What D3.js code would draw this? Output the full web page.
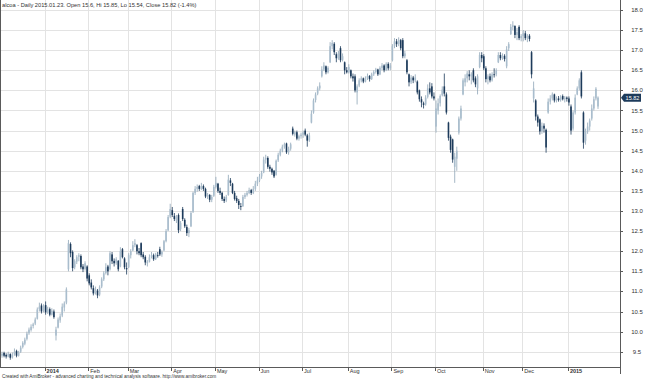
<!DOCTYPE html>
<html><head><meta charset="utf-8">
<script src="https://cdn.jsdelivr.net/npm/d3@7"></script>
<style>html,body{margin:0;padding:0;background:#fff;overflow:hidden}svg{display:block;font-family:"Liberation Sans",Arial,sans-serif}</style>
</head><body><svg id="c" width="645" height="379"></svg>
<script>
// Daily bars, 2013-12-02 .. 2015-01-23 (one entry per trading day)
const openP = [
9.40,9.47,9.42,9.38,9.44,9.36,9.43,9.52,9.40,9.50,9.62,9.70,9.82,9.96,10.04,10.14,10.20,10.32,10.56,10.65,10.52,
10.66,10.48,10.56,10.42,10.50,9.90,10.10,10.28,10.40,10.60,10.72,11.55,12.18,11.98,11.60,11.74,11.86,11.88,11.62,11.56,11.62,
11.40,11.22,11.08,10.95,11.02,10.92,11.12,11.30,11.46,11.62,11.55,11.92,11.76,11.70,11.76,11.62,12.05,11.82,11.58,
11.60,11.90,12.02,12.15,12.15,12.00,12.20,11.92,11.86,11.70,11.74,11.86,11.90,11.80,11.90,12.05,11.92,12.02,12.25,12.52,12.86,
13.02,12.88,12.76,12.90,12.55,13.05,12.78,12.60,12.45,12.62,12.98,13.45,13.55,13.62,13.55,13.62,13.55,13.36,13.40,13.28,13.38,
13.60,13.68,13.50,13.45,13.30,13.26,13.40,13.76,13.68,13.45,13.32,13.25,13.12,13.12,13.35,13.40,13.45,13.52,13.45,13.55,13.68,
13.76,13.86,13.96,14.28,14.32,14.10,14.05,14.00,13.90,14.26,14.40,14.50,14.60,14.68,14.46,14.55,15.05,14.90,14.96,14.80,14.86,
14.90,15.00,14.88,14.76,15.20,15.45,15.76,15.92,16.05,16.35,16.52,16.60,16.45,16.70,17.10,17.16,16.90,16.80,17.05,16.76,16.70,16.50,
16.45,16.50,16.35,16.35,15.95,16.12,16.25,16.30,16.22,16.30,16.36,16.28,16.40,16.46,16.52,16.40,16.56,16.62,16.50,16.66,16.55,
16.75,17.10,17.22,17.15,17.25,17.25,16.85,16.75,16.40,16.20,16.32,16.25,16.22,16.00,15.78,15.68,15.65,15.84,16.05,16.10,15.85,
15.10,15.50,15.68,15.88,16.10,15.90,15.20,14.85,14.78,14.10,14.30,14.95,15.30,15.90,16.20,16.30,16.40,16.35,16.50,16.30,16.05,16.58,16.88,
16.85,16.55,16.28,16.35,16.25,16.40,16.40,16.70,16.88,16.80,16.86,16.60,17.05,17.40,17.58,17.60,17.38,17.58,17.30,
17.35,17.42,17.30,17.36,16.95,15.80,15.75,15.35,15.28,14.98,15.12,15.02,15.45,15.72,15.80,15.90,15.75,15.80,15.76,15.86,15.78,15.82,
15.80,15.60,15.05,15.45,15.90,16.05,16.45,15.45,14.75,14.98,15.10,15.30,15.55,15.80,15.60];
const highP = [
9.50,9.50,9.46,9.50,9.46,9.48,9.58,9.55,9.52,9.65,9.76,9.85,10.00,10.10,10.18,10.22,10.35,10.60,10.72,10.70,10.68,
10.75,10.62,10.60,10.58,10.55,10.12,10.35,10.45,10.70,10.75,11.10,12.28,12.22,12.02,11.80,11.90,11.95,11.92,11.68,11.75,11.65,
11.45,11.30,11.15,11.12,11.06,11.15,11.35,11.50,11.70,11.66,12.00,11.98,11.82,11.85,11.78,12.10,12.08,11.85,11.72,
11.95,12.05,12.25,12.30,12.18,12.08,12.22,11.98,11.90,11.78,11.92,11.98,11.94,11.96,11.98,12.11,12.02,12.28,12.55,12.90,13.18,
13.10,12.95,12.90,12.94,12.75,13.10,12.82,12.66,12.58,13.00,13.48,13.62,13.66,13.65,13.70,13.66,13.58,13.45,13.42,13.40,13.65,
13.85,13.70,13.58,13.48,13.36,13.40,13.90,13.82,13.70,13.50,13.38,13.30,13.20,13.40,13.45,13.50,13.58,13.55,13.62,13.75,13.85,
13.92,14.00,14.35,14.40,14.36,14.15,14.08,14.02,14.28,14.45,14.55,14.65,14.70,14.70,14.60,14.70,15.10,15.00,15.00,14.90,14.95,
15.00,15.05,14.92,14.95,15.50,15.80,15.95,16.10,16.20,16.60,16.70,16.62,16.60,17.20,17.25,17.20,16.95,16.98,17.10,16.92,16.72,16.58,
16.65,16.52,16.42,16.40,16.15,16.30,16.35,16.32,16.35,16.42,16.38,16.44,16.50,16.56,16.54,16.60,16.68,16.65,16.70,16.70,16.68,
17.15,17.30,17.28,17.32,17.28,17.30,16.98,16.78,16.42,16.38,16.36,16.40,16.25,16.02,15.85,15.72,15.88,16.15,16.20,16.18,15.95,
15.75,15.80,15.90,16.10,16.42,15.95,15.22,14.90,14.80,14.45,14.60,15.35,15.62,16.30,16.40,16.48,16.50,16.45,16.55,16.35,16.40,16.95,16.95,
16.90,16.60,16.40,16.42,16.45,16.55,16.55,16.95,16.95,16.92,16.90,17.10,17.20,17.65,17.72,17.62,17.55,17.62,17.40,
17.50,17.48,17.40,17.40,16.98,16.22,15.78,15.40,15.30,15.20,15.18,15.05,15.80,15.88,15.95,15.92,15.85,15.86,15.88,15.90,15.86,15.85,
15.85,15.65,15.50,15.90,16.10,16.30,16.50,15.48,15.05,15.20,15.30,15.65,15.85,16.08,15.85];
const lowP = [
9.35,9.36,9.33,9.36,9.30,9.33,9.40,9.36,9.38,9.47,9.58,9.66,9.78,9.92,10.00,10.08,10.16,10.30,10.50,10.45,10.48,
10.42,10.44,10.38,10.40,10.32,9.78,10.08,10.22,10.36,10.50,10.68,11.50,11.85,11.50,11.55,11.68,11.75,11.55,11.48,11.52,11.25,
11.15,11.05,10.90,10.92,10.83,10.88,11.08,11.26,11.42,11.40,11.52,11.68,11.62,11.66,11.50,11.60,11.82,11.55,11.42,
11.58,11.82,12.00,12.10,11.92,11.90,11.85,11.80,11.65,11.62,11.72,11.82,11.76,11.78,11.84,11.88,11.86,12.00,12.22,12.50,12.82,
12.85,12.75,12.70,12.45,12.50,12.75,12.58,12.38,12.35,12.60,12.95,13.40,13.48,13.50,13.52,13.50,13.32,13.30,13.22,13.22,13.35,
13.56,13.45,13.40,13.25,13.20,13.22,13.38,13.62,13.42,13.26,13.20,13.05,13.02,13.10,13.30,13.36,13.42,13.40,13.42,13.50,13.62,
13.72,13.80,13.94,14.18,14.05,13.98,13.90,13.82,13.88,14.22,14.36,14.46,14.55,14.42,14.40,14.50,14.88,14.85,14.76,14.75,14.80,
14.82,14.86,14.60,14.72,15.18,15.42,15.70,15.88,16.00,16.32,16.48,16.40,16.42,16.68,17.02,16.88,16.70,16.76,16.70,16.72,16.40,16.42,
16.42,16.30,16.22,15.95,15.65,16.08,16.20,16.18,16.20,16.26,16.22,16.26,16.36,16.42,16.36,16.38,16.50,16.45,16.48,16.50,16.50,
16.72,17.05,17.08,17.10,17.00,16.80,16.80,16.40,16.10,16.16,16.18,16.20,15.90,15.72,15.58,15.55,15.62,15.80,15.90,15.80,15.75,
14.95,15.40,15.60,15.85,15.85,15.40,14.75,14.45,14.20,13.70,14.00,14.90,15.25,15.88,16.10,16.20,16.25,16.15,16.20,16.08,15.90,16.55,16.70,
16.50,16.20,16.15,16.20,16.22,16.32,16.35,16.68,16.75,16.76,16.72,16.55,16.98,17.38,17.50,17.30,17.25,17.25,17.22,
17.22,17.25,17.20,17.22,16.30,15.70,15.25,15.10,14.90,14.92,14.95,14.45,15.42,15.65,15.75,15.70,15.70,15.72,15.72,15.75,15.70,15.72,
15.62,14.90,15.00,15.40,15.88,16.00,15.80,14.55,14.65,14.92,15.00,15.25,15.50,15.75,15.54];
const closeP = [
9.45,9.40,9.38,9.45,9.35,9.42,9.50,9.40,9.48,9.60,9.72,9.80,9.95,10.05,10.12,10.18,10.30,10.55,10.62,10.50,10.63,
10.48,10.55,10.42,10.52,10.36,10.05,10.30,10.38,10.62,10.70,11.05,12.20,11.95,11.58,11.75,11.85,11.90,11.60,11.55,11.70,11.32,
11.20,11.10,10.95,11.05,10.90,11.10,11.30,11.45,11.60,11.50,11.95,11.75,11.70,11.80,11.55,12.00,11.85,11.60,11.55,
11.90,12.00,12.15,12.20,12.00,11.95,11.90,11.85,11.72,11.74,11.85,11.90,11.80,11.92,11.88,11.92,11.98,12.25,12.50,12.85,13.05,
12.90,12.80,12.86,12.52,12.70,12.80,12.62,12.45,12.52,12.95,13.45,13.55,13.60,13.55,13.62,13.55,13.36,13.40,13.28,13.35,13.60,
13.70,13.50,13.45,13.30,13.25,13.35,13.78,13.70,13.45,13.30,13.25,13.15,13.10,13.35,13.40,13.45,13.52,13.45,13.55,13.68,13.76,
13.86,13.95,14.28,14.32,14.10,14.05,13.96,13.86,14.25,14.40,14.50,14.60,14.66,14.46,14.55,14.66,14.92,14.96,14.80,14.86,14.90,
14.95,14.90,14.75,14.88,15.42,15.75,15.90,16.05,16.12,16.52,16.62,16.45,16.56,17.10,17.18,16.95,16.80,16.92,16.75,16.85,16.50,16.45,
16.58,16.35,16.30,16.00,16.10,16.25,16.30,16.22,16.30,16.36,16.28,16.40,16.46,16.52,16.40,16.56,16.62,16.50,16.66,16.55,16.62,
17.10,17.22,17.15,17.25,17.05,16.85,16.92,16.45,16.20,16.32,16.25,16.32,15.95,15.78,15.70,15.64,15.82,16.05,15.95,15.85,15.80,
15.55,15.68,15.86,16.02,15.92,15.45,14.82,14.52,14.28,14.35,14.50,15.30,15.55,16.25,16.30,16.42,16.35,16.40,16.25,16.15,16.35,16.88,16.80,
16.55,16.28,16.35,16.25,16.40,16.38,16.50,16.88,16.80,16.86,16.78,17.02,17.15,17.58,17.62,17.38,17.45,17.30,17.35,
17.42,17.30,17.36,17.28,16.40,16.05,15.35,15.20,14.98,15.12,15.05,14.58,15.72,15.80,15.90,15.75,15.80,15.76,15.84,15.78,15.82,15.79,
15.70,15.00,15.45,15.82,16.05,16.25,15.85,14.70,14.98,15.10,15.25,15.55,15.78,16.04,15.82];

// first trading day of each month (bar index) and its label
const monthTickIndex = [21,42,61,82,103,124,145,167,188,209,232,251,273];
const monthTickLabels = ["2014","Feb","Mar","Apr","May","Jun","Jul","Aug","Sep","Oct","Nov","Dec","2015"];
const yearLabels = ["2014","2015"];
const priceTicks = [9.5,10.0,10.5,11.0,11.5,12.0,12.5,13.0,13.5,14.0,14.5,15.0,15.5,16.0,16.5,17.0,17.5,18.0];
const titleText = "alcoa - Daily 2015.01.23. Open 15.6, Hi 15.85, Lo 15.54, Close 15.82 (-1.4%)";
const footerText = "Created with AmiBroker - advanced charting and technical analysis software. http://www.amibroker.com";
const lastClose = 15.82;

const bars = closeP.map((c, i) => ({i, o: openP[i], h: highP[i], l: lowP[i], c}));

const plotRight = 620, plotBottom = 367;
const svg = d3.select("#c");
const x = d3.scaleLinear().domain([0, bars.length - 1]).range([2, 598]);
const y = d3.scaleLinear().domain([9.5, 18]).range([351.7, 10]);

const gridColor = "#e3e3e3";
const axisColor = "#5a5a5a";
const textColor = "#333";

// horizontal gridlines
svg.append("g").selectAll("line").data(priceTicks).join("line")
  .attr("x1", 0).attr("x2", plotRight)
  .attr("y1", d => Math.round(y(d)) + 0.5).attr("y2", d => Math.round(y(d)) + 0.5)
  .attr("stroke", gridColor).attr("stroke-width", 1);

// vertical gridlines at month starts
svg.append("g").selectAll("line").data(monthTickIndex).join("line")
  .attr("x1", d => Math.round(x(d) - 1) + 0.5).attr("x2", d => Math.round(x(d) - 1) + 0.5)
  .attr("y1", 0).attr("y2", plotBottom)
  .attr("stroke", gridColor).attr("stroke-width", 1);

// candles
const upFill = "#a9bdcd", upLine = "#8ea4b6", dnFill = "#1d3b5b", dnLine = "#1d3b5b";
const cg = svg.append("g");
cg.selectAll("line").data(bars).join("line")
  .attr("x1", d => x(d.i)).attr("x2", d => x(d.i))
  .attr("y1", d => y(d.h)).attr("y2", d => y(d.l))
  .attr("stroke", d => d.c >= d.o ? upLine : dnLine).attr("stroke-width", 0.8);
cg.selectAll("rect").data(bars).join("rect")
  .attr("x", d => x(d.i) - 0.8).attr("width", 1.6)
  .attr("y", d => y(Math.max(d.o, d.c)))
  .attr("height", d => Math.max(0.8, Math.abs(y(d.o) - y(d.c))))
  .attr("fill", d => d.c >= d.o ? upFill : dnFill);

// axes lines
svg.append("line").attr("x1", 0.5).attr("x2", 0.5).attr("y1", 0).attr("y2", plotBottom)
  .attr("stroke", axisColor);
svg.append("line").attr("x1", 0).attr("x2", plotRight + 0.5).attr("y1", plotBottom + 0.5).attr("y2", plotBottom + 0.5)
  .attr("stroke", axisColor);
svg.append("line").attr("x1", plotRight + 0.5).attr("x2", plotRight + 0.5).attr("y1", 0).attr("y2", 374)
  .attr("stroke", axisColor);

// right price axis
const ya = svg.append("g");
ya.selectAll("line").data(priceTicks).join("line")
  .attr("x1", plotRight + 1).attr("x2", plotRight + 3)
  .attr("y1", d => Math.round(y(d)) + 0.5).attr("y2", d => Math.round(y(d)) + 0.5)
  .attr("stroke", axisColor);
ya.selectAll("text").data(priceTicks).join("text")
  .attr("x", 637).attr("y", d => y(d) + 2)
  .attr("text-anchor", "middle").attr("font-size", 6).attr("fill", textColor)
  .text(d => d3.format(".1f")(d));

// last price marker
const ly = y(lastClose);
svg.append("path")
  .attr("d", `M${plotRight + 1},${ly} L${plotRight + 4},${ly - 4} L${641},${ly - 4} L${641},${ly + 4} L${plotRight + 4},${ly + 4} Z`)
  .attr("fill", "#1d3b5b");
svg.append("text").attr("x", 632.5).attr("y", ly + 2).attr("text-anchor", "middle")
  .attr("font-size", 5.5).attr("fill", "#fff").text(d3.format(".2f")(lastClose));

// month axis
const xa = svg.append("g");
xa.selectAll("line").data(monthTickIndex).join("line")
  .attr("x1", d => Math.round(x(d) - 1) + 0.5).attr("x2", d => Math.round(x(d) - 1) + 0.5)
  .attr("y1", plotBottom + 1).attr("y2", plotBottom + 4)
  .attr("stroke", axisColor);
xa.selectAll("text").data(monthTickIndex).join("text")
  .attr("x", d => x(d) + 1).attr("y", 373)
  .attr("font-size", 5.5).attr("fill", textColor)
  .attr("font-weight", (d, k) => yearLabels.includes(monthTickLabels[k]) ? "bold" : "normal")
  .text((d, k) => monthTickLabels[k]);

// title and footer
svg.append("text").attr("x", 2).attr("y", 6.5).attr("font-size", 5.7).attr("fill", textColor).text(titleText);
svg.append("text").attr("x", 2).attr("y", 377.5).attr("font-size", 4.7).attr("fill", textColor).text(footerText);
</script>
</body></html>
